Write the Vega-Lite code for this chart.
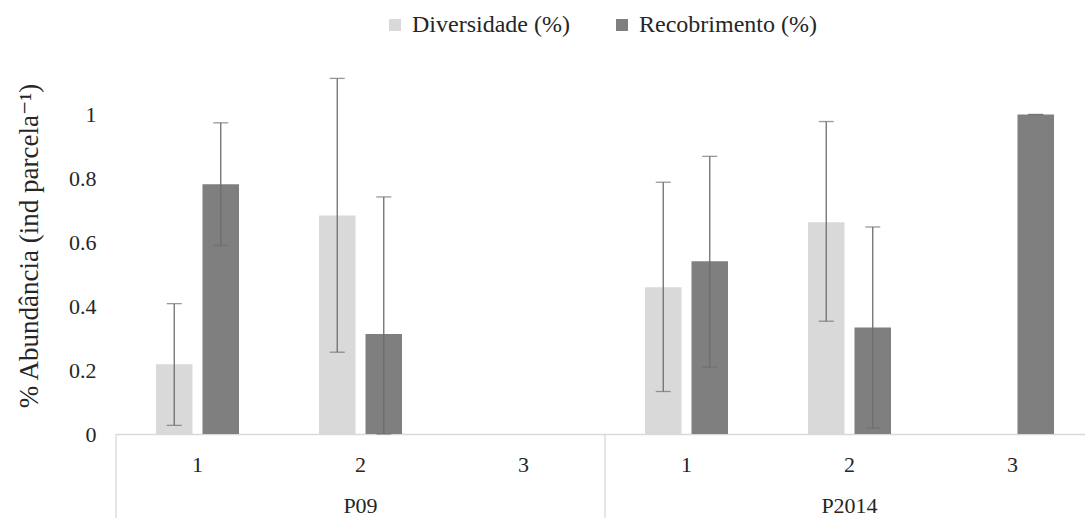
{
  "$schema": "https://vega.github.io/schema/vega-lite/v6.json",
  "background": "white",
  "padding": {"left": 15, "top": 13, "right": 0, "bottom": 0},
  "bounds": "flush",
  "config": {
    "font": "'Liberation Serif', 'Times New Roman', 'DejaVu Serif', serif",
    "view": {"stroke": null}
  },
  "data": {"values": [
    {"grupo": "P09", "parcela": "1", "serie": "Diversidade (%)", "valor": 0.218, "min": 0.027, "max": 0.408},
    {"grupo": "P09", "parcela": "1", "serie": "Recobrimento (%)", "valor": 0.782, "min": 0.59, "max": 0.974},
    {"grupo": "P09", "parcela": "2", "serie": "Diversidade (%)", "valor": 0.684, "min": 0.256, "max": 1.113},
    {"grupo": "P09", "parcela": "2", "serie": "Recobrimento (%)", "valor": 0.313, "min": 0.0, "max": 0.742},
    {"grupo": "P2014", "parcela": "1", "serie": "Diversidade (%)", "valor": 0.459, "min": 0.133, "max": 0.788},
    {"grupo": "P2014", "parcela": "1", "serie": "Recobrimento (%)", "valor": 0.541, "min": 0.209, "max": 0.869},
    {"grupo": "P2014", "parcela": "2", "serie": "Diversidade (%)", "valor": 0.663, "min": 0.353, "max": 0.978},
    {"grupo": "P2014", "parcela": "2", "serie": "Recobrimento (%)", "valor": 0.333, "min": 0.019, "max": 0.648},
    {"grupo": "P2014", "parcela": "3", "serie": "Recobrimento (%)", "valor": 1.0, "min": 1.0, "max": 1.0}
  ]},
  "facet": {
    "column": {
      "field": "grupo", "type": "nominal", "sort": ["P09", "P2014"], "title": null,
      "header": {"labelOrient": "bottom", "labelFontSize": 22, "labelColor": "#262626", "labelPadding": 21}
    }
  },
  "spacing": 0,
  "spec": {
    "width": 489,
    "height": 377,
    "encoding": {
      "x": {
        "field": "parcela", "type": "nominal", "title": null,
        "scale": {"paddingInner": 0, "paddingOuter": 0},
        "axis": {"labelAngle": 0, "labelFontSize": 22, "labelColor": "#262626", "labelPadding": 20, "ticks": false, "domainColor": "#d9d9d9", "domainWidth": 1.3}
      },
      "xOffset": {
        "field": "serie", "type": "nominal",
        "scale": {"domain": ["Diversidade (%)", "Recobrimento (%)"], "paddingInner": 0.215, "paddingOuter": 0.86}
      }
    },
    "layer": [
      {
        "mark": {"type": "bar"},
        "encoding": {
          "y": {
            "field": "valor", "type": "quantitative",
            "title": "% Abundância (ind parcela⁻¹)",
            "scale": {"domain": [0, 1.18], "nice": false},
            "axis": {"values": [0, 0.2, 0.4, 0.6, 0.8, 1], "format": "~g", "grid": false, "domain": false, "ticks": false, "labelFontSize": 22, "labelColor": "#262626", "labelPadding": 20, "titleFontSize": 27, "titleFontWeight": "normal", "titleColor": "#262626", "titlePadding": 25}
          },
          "color": {
            "field": "serie", "type": "nominal",
            "scale": {"domain": ["Diversidade (%)", "Recobrimento (%)"], "range": ["#d9d9d9", "#7f7f7f"]},
            "legend": {"orient": "none", "legendX": 267, "legendY": -44, "title": null, "direction": "horizontal", "symbolType": "square", "symbolSize": 144, "symbolStrokeWidth": 0, "labelFontSize": 24, "labelLimit": 400, "labelColor": "#262626", "labelOffset": 5, "columnPadding": 40}
          }
        }
      },
      {
        "mark": {"type": "rule", "color": "#6e6e6e", "strokeWidth": 1.3},
        "encoding": {
          "y": {"field": "min", "type": "quantitative"},
          "y2": {"field": "max"}
        }
      },
      {
        "mark": {"type": "tick", "color": "#6e6e6e", "thickness": 1.3, "size": 15},
        "encoding": {"y": {"field": "min", "type": "quantitative"}}
      },
      {
        "mark": {"type": "tick", "color": "#6e6e6e", "thickness": 1.3, "size": 15},
        "encoding": {"y": {"field": "max", "type": "quantitative"}}
      },
      {
        "transform": [{"filter": "datum.parcela == '1' && datum.serie == 'Diversidade (%)'"}],
        "mark": {"type": "rule", "color": "#d9d9d9", "strokeWidth": 1.3},
        "encoding": {
          "x": {"field": "parcela", "type": "nominal", "bandPosition": 0},
          "xOffset": {"value": 0},
          "y": {"datum": 0},
          "y2": {"datum": -0.3}
        }
      }
    ]
  }
}
